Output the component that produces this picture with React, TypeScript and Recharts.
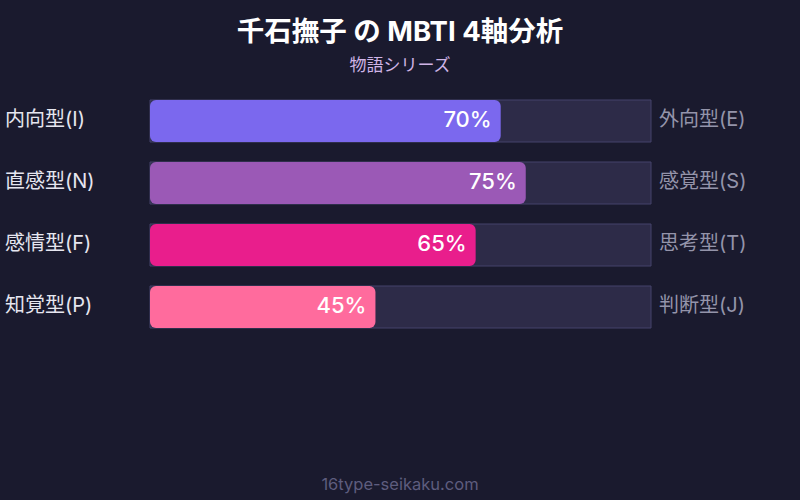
import { BarChart, Bar, XAxis, YAxis, LabelList, Cell } from "recharts";

const axes = ["IE", "NS", "FT", "PJ"];
const leftLabels = ["内向型(I)", "直感型(N)", "感情型(F)", "知覚型(P)"];
const rightLabels = ["外向型(E)", "感覚型(S)", "思考型(T)", "判断型(J)"];
const scores = [70, 75, 65, 45];
const barColors = ["#7b68ee", "#9b59b6", "#e91e8c", "#ff6b9d"];

const FONT = "Inter, 'Noto Sans CJK JP', sans-serif";

const data = axes.map((axis, i) => ({
  axis,
  left: leftLabels[i],
  right: rightLabels[i],
  value: scores[i],
}));

function AxisTick(props: any) {
  const { y, index } = props;
  return (
    <g>
      <text x={5} y={y} dy={5} fill="#e6e6f0" fontSize={20} fontFamily={FONT} textAnchor="start">
        {leftLabels[index]}
      </text>
      <text x={659} y={y} dy={5} fill="#9494aa" fontSize={20} fontFamily={FONT} textAnchor="start">
        {rightLabels[index]}
      </text>
    </g>
  );
}

function ValueLabel(props: any) {
  const { x, y, width, height, value } = props;
  return (
    <text
      x={x + width - 9}
      y={y + height / 2}
      dy={6}
      fill="#ffffff"
      fontSize={22}
      fontWeight={500}
      fontFamily={FONT}
      textAnchor="end"
    >
      {value}%
    </text>
  );
}

export default function App(): React.ReactElement {
  return (
    <div
      style={{
        position: "fixed",
        top: 0,
        left: 0,
        width: 800,
        height: 500,
        background: "#1a1a2e",
        fontFamily: FONT,
      }}
    >
      <div
        style={{
          position: "absolute",
          top: 15,
          width: 800,
          textAlign: "center",
          color: "#ffffff",
          fontSize: 27.5,
          lineHeight: "32px",
          fontWeight: 700,
        }}
      >
        千石撫子 の MBTI 4軸分析
      </div>
      <div
        style={{
          position: "absolute",
          top: 53,
          width: 800,
          textAlign: "center",
          color: "#cfb4e6",
          fontSize: 17,
          lineHeight: "24px",
        }}
      >
        物語シリーズ
      </div>
      <div style={{ position: "absolute", top: 0, left: 0 }}>
        <BarChart
          width={800}
          height={500}
          data={data}
          layout="vertical"
          margin={{ top: 90, right: 149, bottom: 162, left: 0 }}
        >
          <XAxis type="number" domain={[0, 100]} hide />
          <YAxis
            type="category"
            dataKey="axis"
            width={150}
            axisLine={false}
            tickLine={false}
            tick={<AxisTick />}
          />
          <Bar
            dataKey="value"
            barSize={42}
            radius={6}
            background={{ fill: "#2d2b48", stroke: "#45436a", strokeWidth: 1 }}
            isAnimationActive={false}
          >
            {data.map((d, i) => (
              <Cell key={d.axis} fill={barColors[i]} />
            ))}
            <LabelList dataKey="value" content={<ValueLabel />} />
          </Bar>
        </BarChart>
      </div>
      <div
        style={{
          position: "absolute",
          top: 473,
          width: 800,
          textAlign: "center",
          color: "#5e5d7e",
          fontSize: 16.5,
          lineHeight: "22px",
        }}
      >
        16type-seikaku.com
      </div>
    </div>
  );
}
